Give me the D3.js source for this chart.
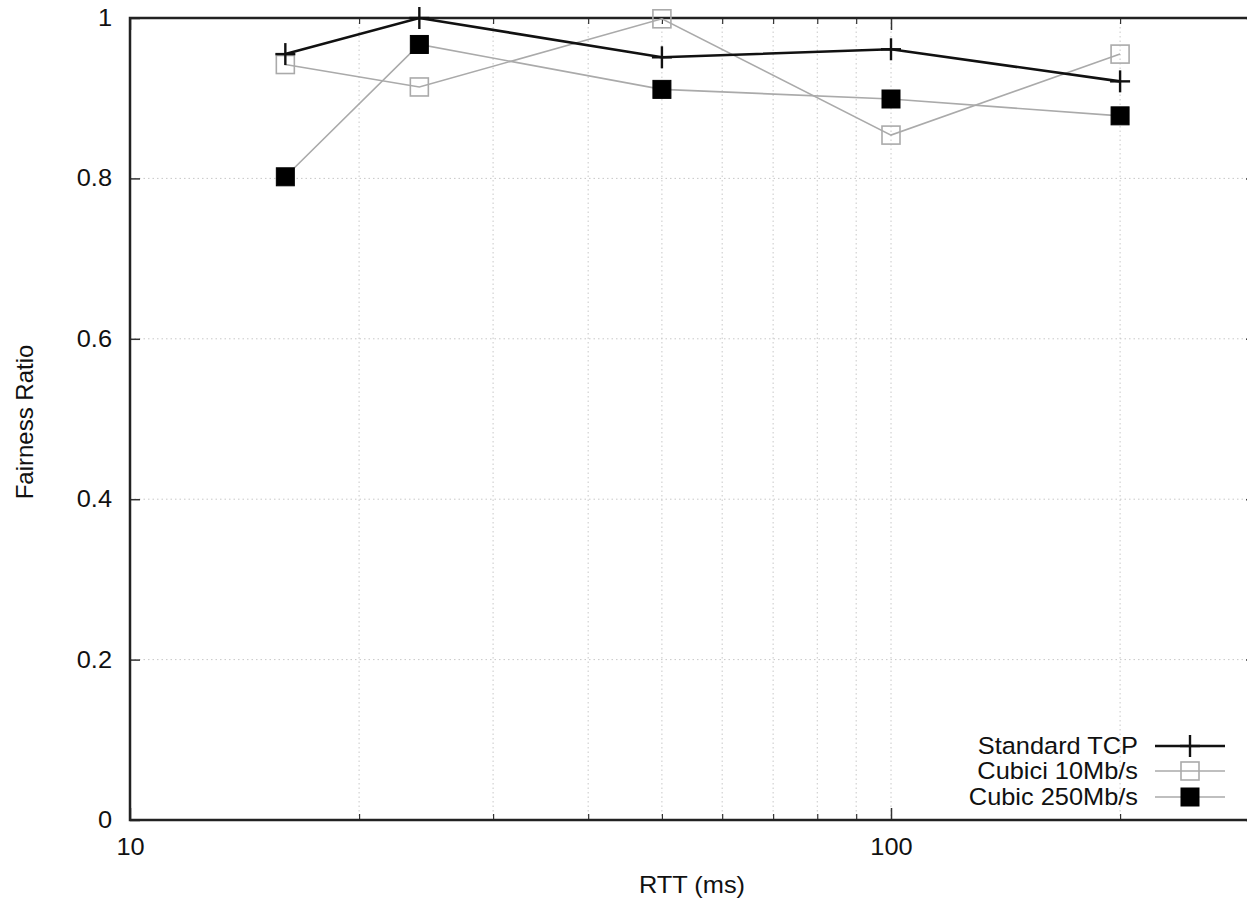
<!DOCTYPE html>
<html><head><meta charset="utf-8">
<script src="https://cdn.jsdelivr.net/npm/d3@7"></script>
<style>
html,body{margin:0;padding:0;background:#fff;}
svg{display:block;font-family:"Liberation Sans",Arial,Helvetica,sans-serif;}
</style></head><body>
<svg id="chart" width="1247" height="901"></svg>
<script>
const rtt = [16, 24, 50, 100, 200];
const standardTCP = [0.955, 1.0, 0.951, 0.961, 0.921];
const cubici10 = [0.942, 0.914, 0.999, 0.854, 0.955];
const cubic250 = [0.802, 0.967, 0.911, 0.899, 0.878];
const seriesNames = ["Standard TCP", "Cubici 10Mb/s", "Cubic 250Mb/s"];
const yTicks = [0, 0.2, 0.4, 0.6, 0.8, 1];
const xMajorTicks = [10, 100];
const xMinorTicks = [20, 30, 40, 50, 60, 70, 80, 90, 200];

const svg = d3.select("#chart");
const L = 130, T = 18, B = 820;
const x = d3.scaleLog().domain([10, 300]).range([L, L + 761 * Math.log10(30)]);
const y = d3.scaleLinear().domain([0, 1]).range([B, T]);
const R = x(300);
const fs = 23.5;
const sx = 1.08; // horizontal stretch of the reference's text

// grid
const grid = svg.append("g");
grid.selectAll("line.hg").data(yTicks.filter(d => d > 0 && d < 1)).enter().append("line")
  .attr("x1", L).attr("x2", R).attr("y1", d => y(d)).attr("y2", d => y(d))
  .attr("stroke", "#c8c8c8").attr("stroke-width", 1).attr("stroke-dasharray", "1.5,3");
grid.selectAll("line.vg").data(xMinorTicks.concat([100])).enter().append("line")
  .attr("x1", d => x(d)).attr("x2", d => x(d)).attr("y1", T).attr("y2", B)
  .attr("stroke", "#c8c8c8").attr("stroke-width", 1).attr("stroke-dasharray", "1.5,3");

function stretchText(sel) {
  sel.each(function() {
    const t = d3.select(this);
    const bx = +t.attr("x") || 0;
    t.attr("transform", `translate(${bx},0) scale(${sx},1) translate(${-bx},0)`);
  });
}

// axes via d3
const yAxis = d3.axisLeft(y).tickValues(yTicks).tickFormat(d => d === 0 ? "0" : d === 1 ? "1" : d3.format(".1f")(d)).tickSize(-10).tickPadding(18);
const gy = svg.append("g").attr("transform", `translate(${L},0)`).call(yAxis);
gy.select(".domain").remove();
gy.selectAll(".tick line").attr("stroke", "#333").attr("stroke-width", 1.5);
gy.selectAll(".tick text").attr("font-size", fs).attr("fill", "#111").attr("font-family", "Liberation Sans, Arial, sans-serif").call(stretchText);

const yAxisR = d3.axisRight(y).tickValues(yTicks).tickFormat("").tickSize(-8);
const gyr = svg.append("g").attr("transform", `translate(${R},0)`).call(yAxisR);
gyr.select(".domain").remove();
gyr.selectAll(".tick line").attr("stroke", "#333").attr("stroke-width", 1.5);

const xAxis = d3.axisBottom(x).tickValues(xMajorTicks).tickFormat(d3.format("d")).tickSize(-12).tickPadding(18);
const gx = svg.append("g").attr("transform", `translate(0,${B})`).call(xAxis);
gx.select(".domain").remove();
gx.selectAll(".tick line").attr("stroke", "#333").attr("stroke-width", 1.5);
gx.selectAll(".tick text").attr("font-size", fs).attr("fill", "#111").attr("font-family", "Liberation Sans, Arial, sans-serif").call(stretchText);

const xMinor = d3.axisBottom(x).tickValues(xMinorTicks).tickFormat("").tickSize(-6);
const gxm = svg.append("g").attr("transform", `translate(0,${B})`).call(xMinor);
gxm.select(".domain").remove();
gxm.selectAll(".tick line").attr("stroke", "#333").attr("stroke-width", 1.2);

const xTop = d3.axisTop(x).tickValues(xMajorTicks).tickFormat("").tickSize(-12);
const gxt = svg.append("g").attr("transform", `translate(0,${T})`).call(xTop);
gxt.select(".domain").remove();
gxt.selectAll(".tick line").attr("stroke", "#333").attr("stroke-width", 1.5);
const xTopMinor = d3.axisTop(x).tickValues(xMinorTicks).tickFormat("").tickSize(-6);
const gxtm = svg.append("g").attr("transform", `translate(0,${T})`).call(xTopMinor);
gxtm.select(".domain").remove();
gxtm.selectAll(".tick line").attr("stroke", "#333").attr("stroke-width", 1.2);

// frame
svg.append("rect").attr("x", L).attr("y", T).attr("width", R - L).attr("height", B - T)
  .attr("fill", "none").attr("stroke", "#222").attr("stroke-width", 2.5);

// axis labels
svg.append("text").attr("x", 692).attr("y", 893).attr("text-anchor", "middle")
  .attr("font-size", fs).attr("fill", "#111").text("RTT (ms)").call(stretchText);
svg.append("text").attr("transform", "translate(33,422) rotate(-90)").attr("text-anchor", "middle")
  .attr("font-size", fs + 0.5).attr("fill", "#111").text("Fairness Ratio");

// series
const line = d3.line().x(d => x(d[0])).y(d => y(d[1]));
const styles = [
  {vals: standardTCP, stroke: "#111", sw: 2.6, marker: "plus"},
  {vals: cubici10, stroke: "#aaa", sw: 1.6, marker: "open"},
  {vals: cubic250, stroke: "#aaa", sw: 1.6, marker: "filled"}
];
function drawMarker(g, type, cx, cy) {
  if (type === "plus") {
    g.append("line").attr("x1", cx - 10).attr("x2", cx + 10).attr("y1", cy).attr("y2", cy).attr("stroke", "#111").attr("stroke-width", 2.4);
    g.append("line").attr("x1", cx).attr("x2", cx).attr("y1", cy - 11).attr("y2", cy + 11).attr("stroke", "#111").attr("stroke-width", 2.4);
  } else if (type === "open") {
    g.append("rect").attr("x", cx - 9).attr("y", cy - 9).attr("width", 18).attr("height", 18)
      .attr("fill", "#fff").attr("fill-opacity", 0).attr("stroke", "#aaa").attr("stroke-width", 1.6);
  } else {
    g.append("rect").attr("x", cx - 9).attr("y", cy - 9).attr("width", 18).attr("height", 18)
      .attr("fill", "#000").attr("stroke", "#000").attr("stroke-width", 1);
  }
}
const order = [2, 1, 0];
order.forEach(i => {
  const s = styles[i];
  const pts = rtt.map((r, j) => [r, s.vals[j]]);
  svg.append("path").datum(pts).attr("d", line).attr("fill", "none").attr("stroke", s.stroke).attr("stroke-width", s.sw);
});
order.forEach(i => {
  const s = styles[i];
  const g = svg.append("g");
  rtt.forEach((r, j) => drawMarker(g, s.marker, x(r), y(s.vals[j])));
});

// legend
const legY = [746, 771, 797];
seriesNames.forEach((name, i) => {
  const s = styles[i];
  svg.append("text").attr("x", 1138).attr("y", legY[i]).attr("dy", "0.35em").attr("text-anchor", "end")
    .attr("font-size", fs).attr("fill", "#111").text(name).call(stretchText);
  svg.append("line").attr("x1", 1155).attr("x2", 1225).attr("y1", legY[i]).attr("y2", legY[i])
    .attr("stroke", s.stroke).attr("stroke-width", s.sw);
  const g = svg.append("g");
  drawMarker(g, s.marker, 1190, legY[i]);
});
</script>
</body></html>
